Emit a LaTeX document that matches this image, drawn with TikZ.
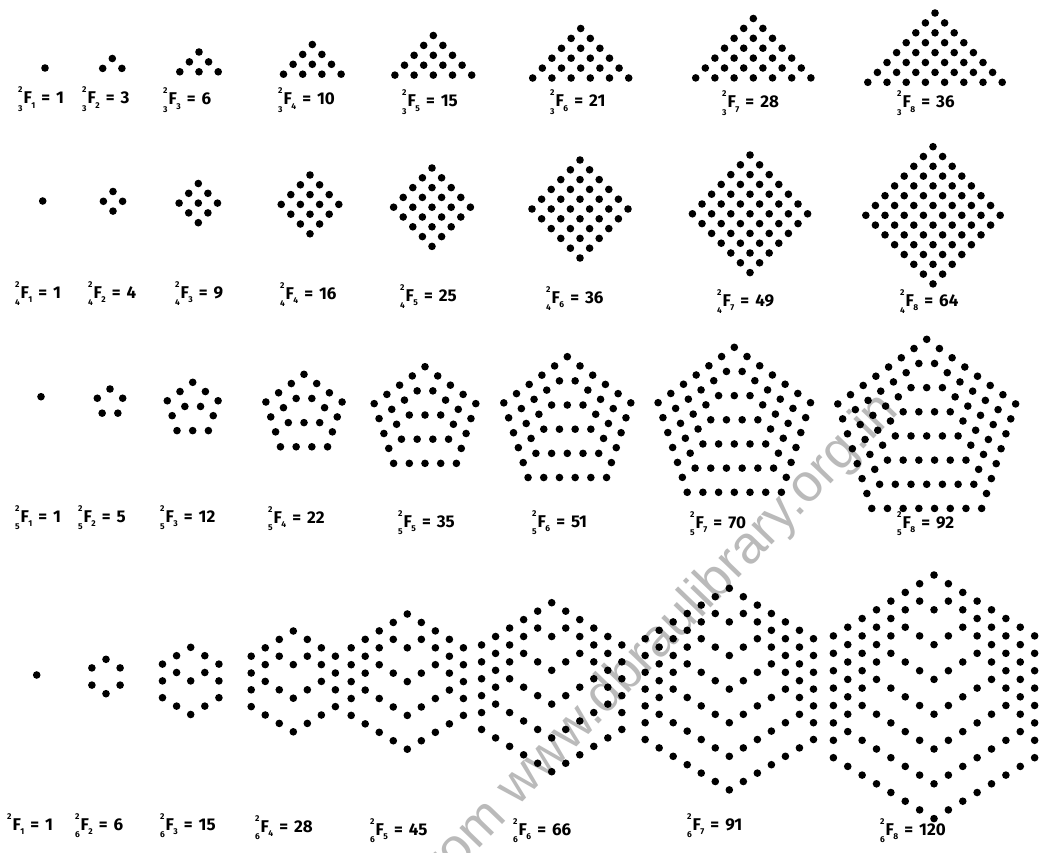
\documentclass[tikz,border=0pt]{standalone}
\usepackage{fontspec}
\setmainfont{Fira Sans}
\newfontfamily\wmfont{Liberation Sans}
\newcommand\smf{\fontsize{8.5}{8.5}\selectfont}
\newlength\prew
\setlength\prew{5.5pt}
\newcommand\flab[3]{\makebox[\prew][l]{\raisebox{11pt}{\smf 2}}\kern-\prew\makebox[\prew][l]{\raisebox{-7.5pt}{\smf #1}}F\kern-0.5pt\raisebox{-4.5pt}{\smf #2}\hspace{6pt}=\hspace{6pt}#3}
\newcommand\dotr{3.8pt}
\newcommand\trih{9.6}
\newcommand\triv{9.9}
\newcommand\sqh{9.6}
\newcommand\sqv{9.8}
\newcommand\pgs{15.7}
\begin{document}
\begin{tikzpicture}[x=1pt,y=-1pt,
  dotc/.style={fill=black},
  lab/.style={anchor=base west, inner sep=0pt, font=\fontsize{17}{17}\selectfont\bfseries},
  wm/.style={anchor=base east, inner sep=0pt, rotate=46, text=black!27, font=\wmfont\fontsize{53}{53}\selectfont}]
\fill[white] (0,0) rectangle (1043,853);
\useasboundingbox (0,0) rectangle (1043,853);
% watermark
\begin{scope}
\clip (0,0) rectangle (1043,853);
\node[wm] (wmark) at (900,412) {from www.dbraulibrary.org.in};
\end{scope}
% row 1: triangles
\foreach \Ax/\Ay/\Nn in {45/68/1, 112.3/58.5/2, 199/52/3, 312.3/44.5/4, 433.3/35.5/5, 580.7/28.5/6, 753.3/18.5/7, 935/13/8} {
  \pgfmathtruncatemacro\Nm{\Nn-1}
  \foreach \vr in {0,...,\Nm} {
    \foreach \vj in {0,...,\vr} {
      \pgfmathsetmacro\px{\Ax+(2*\vj-\vr)*\trih}
      \pgfmathsetmacro\py{\Ay+\vr*\triv}
      \fill[dotc] (\px,\py) circle[radius=\dotr];
    }
  }
}
% row 2: squares
\foreach \Ax/\Ay/\Nn in {42.7/201/1, 113/191.5/2, 198.3/183.5/3, 310/175/4, 432/168/5, 580/160/6, 750/155/7, 933/146.7/8} {
  \pgfmathtruncatemacro\Nm{\Nn-1}
  \foreach \vr in {0,...,\Nm} {
    \foreach \vj in {0,...,\Nm} {
      \pgfmathsetmacro\px{\Ax+(\vj-\vr)*\sqh}
      \pgfmathsetmacro\py{\Ay+(\vj+\vr)*\sqv}
      \fill[dotc] (\px,\py) circle[radius=\dotr];
    }
  }
}
% row 3: pentagons
\foreach \Ax/\Ay/\Nn in {41/396.7/1, 110/389/2, 192.7/382.3/3, 304/374.3/4, 425/366.7/5, 567.3/356.7/6, 734.3/347.3/7, 926.7/339.3/8} {
  \pgfmathtruncatemacro\Nm{\Nn-1}
  \foreach \vm in {0,...,\Nm} {
    \pgfmathtruncatemacro\kk{3*\vm}
    \foreach \vk in {0,...,\kk} {
      \pgfmathsetmacro\ca{min(\vk,\vm)}
      \pgfmathsetmacro\cb{min(max(\vk-\vm,0),\vm)}
      \pgfmathsetmacro\cc{max(\vk-2*\vm,0)}
      \pgfmathsetmacro\px{\Ax+\pgs*(-0.809*\vm+0.309*\ca+\cb+0.309*\cc)}
      \pgfmathsetmacro\py{\Ay+\pgs*(0.588*\vm+0.951*\ca-0.951*\cc)}
      \fill[dotc] (\px,\py) circle[radius=\dotr];
    }
  }
}
% row 4: hexagons
\foreach \Ax/\Ay/\Nn/\sx/\sy in {36.7/675/1/16.3/16.9, 106/659.3/2/16.3/17.2, 190.7/647.3/3/16.3/16.8, 293.3/631/4/16.2/16.8, 407.3/614/5/16.2/16.9, 551.7/602.7/6/16.2/16.9, 729.3/588.3/7/16.2/16.8, 934/575/8/16.6/17.4} {
  \pgfmathtruncatemacro\Nm{\Nn-1}
  \foreach \vm in {0,...,\Nm} {
    \pgfmathtruncatemacro\kk{4*\vm}
    \foreach \vk in {0,...,\kk} {
      \pgfmathsetmacro\ca{min(\vk,\vm)}
      \pgfmathsetmacro\cb{min(max(\vk-\vm,0),\vm)}
      \pgfmathsetmacro\cc{min(max(\vk-2*\vm,0),\vm)}
      \pgfmathsetmacro\cd{max(\vk-3*\vm,0)}
      \pgfmathsetmacro\px{\Ax+\sx*(-0.866*\vm+0.866*\cb+0.866*\cc)}
      \pgfmathsetmacro\py{\Ay+\sy*(0.5*\vm+\ca+0.5*\cb-0.5*\cc-\cd)}
      \fill[dotc] (\px,\py) circle[radius=\dotr];
    }
  }
}
% labels row 1
\node[lab] (la1) at (18,104) {\flab{3}{1}{1}};
\node[lab] (la2) at (82,104) {\flab{3}{2}{3}};
\node[lab] (la3) at (163,105) {\flab{3}{3}{6}};
\node[lab] (la4) at (278,105) {\flab{3}{4}{10}};
\node[lab] (la5) at (402,107) {\flab{3}{5}{15}};
\node[lab] (la6) at (550,107) {\flab{3}{6}{21}};
\node[lab] (la7) at (722,108) {\flab{3}{7}{28}};
\node[lab] (la8) at (897,108) {\flab{3}{8}{36}};
% labels row 2
\node[lab] (lb1) at (15,298) {\flab{4}{1}{1}};
\node[lab] (lb2) at (88,298) {\flab{4}{2}{4}};
\node[lab] (lb3) at (175,298) {\flab{4}{3}{9}};
\node[lab] (lb4) at (280,299) {\flab{4}{4}{16}};
\node[lab] (lb5) at (400,301) {\flab{4}{5}{25}};
\node[lab] (lb6) at (546,303) {\flab{4}{6}{36}};
\node[lab] (lb7) at (717,306) {\flab{4}{7}{49}};
\node[lab] (lb8) at (900,306) {\flab{4}{8}{64}};
% labels row 3
\node[lab] (lc1) at (15,522) {\flab{5}{1}{1}};
\node[lab] (lc2) at (78,522) {\flab{5}{2}{5}};
\node[lab] (lc3) at (160,522) {\flab{5}{3}{12}};
\node[lab] (lc4) at (268,523) {\flab{5}{4}{22}};
\node[lab] (lc5) at (398,527) {\flab{5}{5}{35}};
\node[lab] (lc6) at (532,527) {\flab{5}{6}{51}};
\node[lab] (lc7) at (690,528) {\flab{5}{7}{70}};
\node[lab] (lc8) at (897,528) {\flab{5}{8}{92}};
% labels row 4
\node[lab] (ld1) at (7,830) {\flab{}{1}{1}};
\node[lab] (ld2) at (75,830) {\flab{6}{2}{6}};
\node[lab] (ld3) at (160,830) {\flab{6}{3}{15}};
\node[lab] (ld4) at (255,832) {\flab{6}{4}{28}};
\node[lab] (ld5) at (370,835) {\flab{6}{5}{45}};
\node[lab] (ld6) at (513,835) {\flab{6}{6}{66}};
\node[lab] (ld7) at (687,830) {\flab{6}{7}{91}};
\node[lab] (ld8) at (880,835) {\flab{6}{8}{120}};
\end{tikzpicture}
\end{document}
